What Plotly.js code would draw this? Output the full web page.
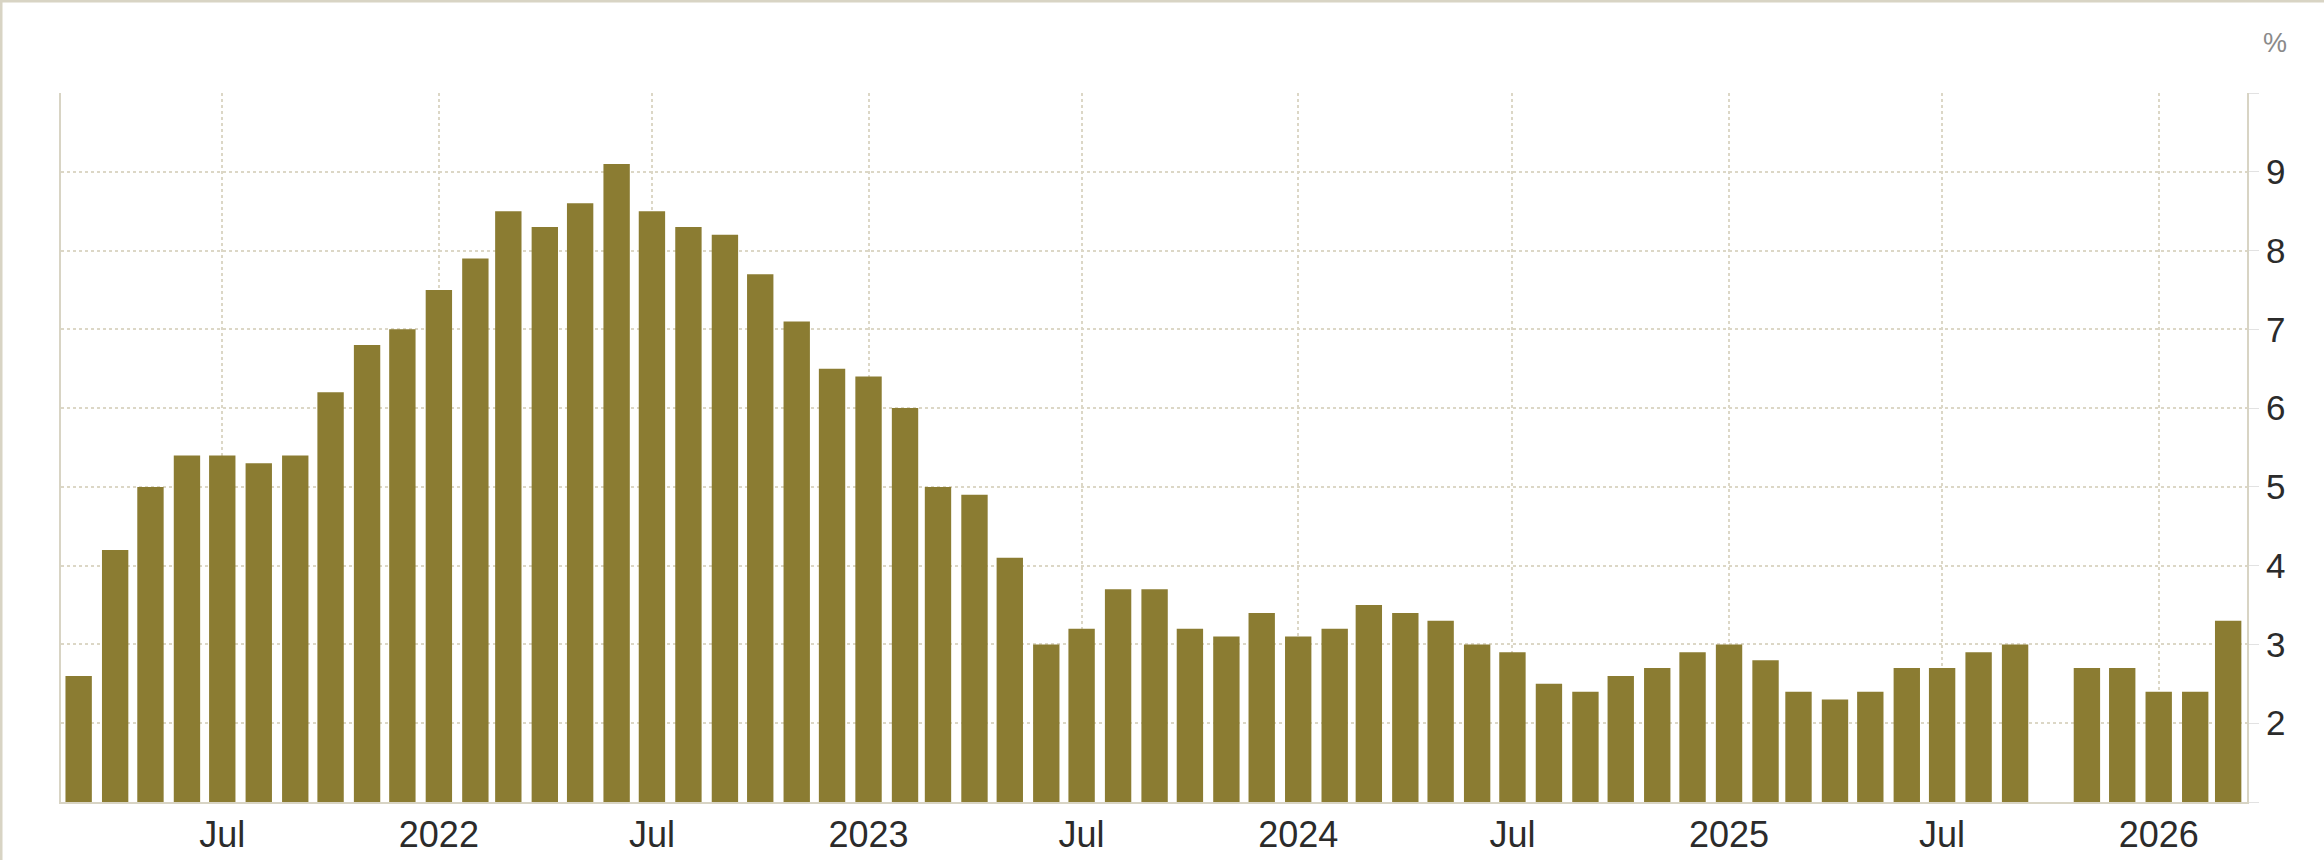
<!DOCTYPE html>
<html>
<head>
<meta charset="utf-8">
<script src="https://cdn.plot.ly/plotly-3.0.1.min.js"></script>
<style>
  body { margin: 0; background: #ffffff; }
  #chart { width: 2324px; height: 860px; }
</style>
</head>
<body>
<div id="chart"></div>
<script>
// monthly readings, Oct 2025 has no release
const months = [
  '2021-03-01', '2021-04-01', '2021-05-01', '2021-06-01', '2021-07-01', '2021-08-01',
  '2021-09-01', '2021-10-01', '2021-11-01', '2021-12-01',
  '2022-01-01', '2022-02-01', '2022-03-01', '2022-04-01', '2022-05-01', '2022-06-01',
  '2022-07-01', '2022-08-01', '2022-09-01', '2022-10-01', '2022-11-01', '2022-12-01',
  '2023-01-01', '2023-02-01', '2023-03-01', '2023-04-01', '2023-05-01', '2023-06-01',
  '2023-07-01', '2023-08-01', '2023-09-01', '2023-10-01', '2023-11-01', '2023-12-01',
  '2024-01-01', '2024-02-01', '2024-03-01', '2024-04-01', '2024-05-01', '2024-06-01',
  '2024-07-01', '2024-08-01', '2024-09-01', '2024-10-01', '2024-11-01', '2024-12-01',
  '2025-01-01', '2025-02-01', '2025-03-01', '2025-04-01', '2025-05-01', '2025-06-01',
  '2025-07-01', '2025-08-01', '2025-09-01', '2025-10-01', '2025-11-01', '2025-12-01',
  '2026-01-01', '2026-02-01', '2026-03-01'
];
const rate = [
  2.6, 4.2, 5.0, 5.4, 5.4, 5.3, 5.4, 6.2, 6.8, 7.0,
  7.5, 7.9, 8.5, 8.3, 8.6, 9.1, 8.5, 8.3, 8.2, 7.7, 7.1, 6.5,
  6.4, 6.0, 5.0, 4.9, 4.1, 3.0, 3.2, 3.7, 3.7, 3.2, 3.1, 3.4,
  3.1, 3.2, 3.5, 3.4, 3.3, 3.0, 2.9, 2.5, 2.4, 2.6, 2.7, 2.9,
  3.0, 2.8, 2.4, 2.3, 2.4, 2.7, 2.7, 2.9, 3.0, null, 2.7, 2.7,
  2.4, 2.4, 3.3
];

// x axis labels
const xTickVals = ['2021-07-01', '2022-01-01', '2022-07-01', '2023-01-01', '2023-07-01',
  '2024-01-01', '2024-07-01', '2025-01-01', '2025-07-01', '2026-01-01'];
const xTickText = ['Jul', '2022', 'Jul', '2023', 'Jul', '2024', 'Jul', '2025', 'Jul', '2026'];

// y axis labels (1 and 10 only carry grid lines)
const yTickVals = [1, 2, 3, 4, 5, 6, 7, 8, 9, 10];
const yTickText = ['', '2', '3', '4', '5', '6', '7', '8', '9', ''];

const W = 2324, H = 860;
const m = {l: 61, r: 77, t: 93, b: 58};
const pw = W - m.l - m.r;
const ph = H - m.t - m.b;
const beige = '#d8d4c4';
const grid = '#dcd7c6';
const DAY = 24 * 3600 * 1000;

const bars = {
  x: months, y: rate, type: 'bar',
  width: 22.4 * DAY,
  marker: {color: '#8b7c32', line: {width: 0}},
  hoverinfo: 'x+y'
};

const layout = {
  width: W, height: H,
  margin: m,
  paper_bgcolor: '#ffffff',
  plot_bgcolor: '#ffffff',
  showlegend: false,
  font: {family: '"Liberation Sans", Arial, sans-serif', color: '#2b2b2b'},
  xaxis: {
    type: 'date',
    range: ['2021-02-14', '2026-03-17'],
    tickvals: xTickVals, ticktext: xTickText,
    tickfont: {size: 36, color: '#2b2b2b'},
    showgrid: true, gridcolor: grid, gridwidth: 2, griddash: 'dot',
    showline: true, linecolor: beige, linewidth: 2,
    ticks: '', zeroline: false, fixedrange: true
  },
  yaxis: {
    side: 'right',
    range: [1, 10],
    tickvals: yTickVals, ticktext: yTickText,
    tickfont: {size: 35, color: '#2b2b2b'},
    ticks: 'outside', ticklen: 10, tickcolor: '#e2e2e2', tickwidth: 1,
    showgrid: true, gridcolor: grid, gridwidth: 2, griddash: 'dot',
    showline: true, mirror: true, linecolor: beige, linewidth: 2,
    zeroline: false, fixedrange: true
  },
  annotations: [{
    text: '%', xref: 'paper', yref: 'paper',
    x: (2275 - m.l) / pw, y: (H - m.b - 43) / ph,
    xanchor: 'center', yanchor: 'middle', showarrow: false,
    font: {size: 27, color: '#8a8a8a'}
  }],
  // frame round the page (top and left edges)
  shapes: [
    {type: 'line', xref: 'paper', yref: 'paper',
      x0: -m.l / pw, x1: (W - m.l) / pw, y0: (H - m.b - 1) / ph, y1: (H - m.b - 1) / ph,
      line: {color: beige, width: 3}},
    {type: 'line', xref: 'paper', yref: 'paper',
      x0: (1 - m.l) / pw, x1: (1 - m.l) / pw, y0: -m.b / ph, y1: (H - m.b) / ph,
      line: {color: beige, width: 3}}
  ]
};

Plotly.newPlot('chart', [bars], layout, {displayModeBar: false, staticPlot: true});
</script>
</body>
</html>
